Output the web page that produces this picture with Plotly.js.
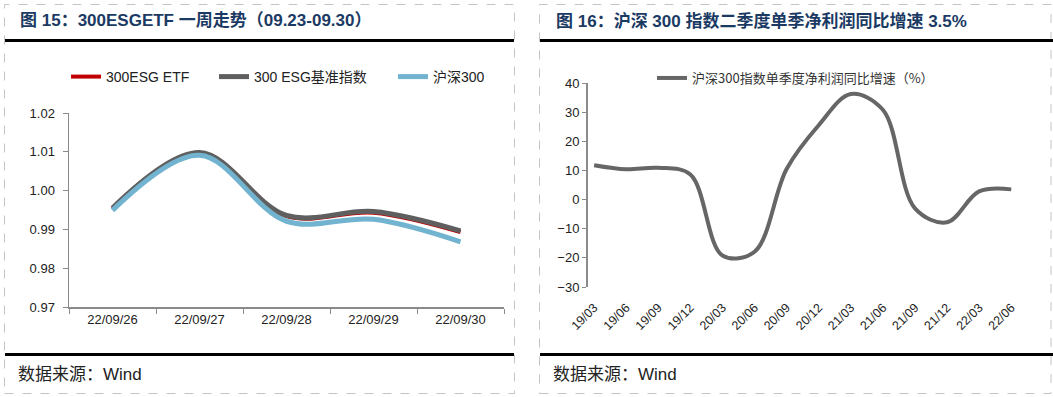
<!DOCTYPE html>
<html>
<head>
<meta charset="utf-8">
<script src="https://cdn.plot.ly/plotly-3.0.1.min.js"></script>
<style>
html,body{margin:0;padding:0;background:#fff;}
#chart{width:1053px;height:397px;}
</style>
</head>
<body>
<div id="chart"></div>
<script>
// ---- Left chart data ----
const dates = ['22/09/26', '22/09/27', '22/09/28', '22/09/29', '22/09/30'];
const etfValues = [0.9953, 1.0096, 0.9934, 0.9943, 0.9893];
const benchValues = [0.9955, 1.0098, 0.9936, 0.9946, 0.9896];
const hs300Values = [0.9949, 1.0091, 0.9921, 0.9926, 0.9868];
const leftNames = ['300ESG ETF', '300 ESG基准指数', '沪深300'];
const leftTicks = [0.97, 0.98, 0.99, 1.00, 1.01, 1.02];

// ---- Right chart data ----
const quarters = ['19/03', '19/06', '19/09', '19/12', '20/03', '20/06', '20/09',
                  '20/12', '21/03', '21/06', '21/09', '21/12', '22/03', '22/06'];
const profitGrowth = [11.8, 10.4, 10.9, 8.6, -19.2, -17.9, 10.5,
                      25.5, 36.2, 30.8, -3.0, -7.8, 2.8, 3.5];
const rightName = '沪深300指数单季度净利润同比增速（%）';

const quarterIdx = quarters.map((q, i) => i);

const W = 1053, H = 397;
const px = v => v / W;
const py = v => 1 - v / H;

const tickFont = {family: 'Liberation Sans, Arial, sans-serif', size: 13, color: '#222'};
const cjkFont = 'Liberation Sans, Noto Sans CJK SC, sans-serif';

const traces = [
  {x: dates, y: etfValues, name: leftNames[0], type: 'scatter', mode: 'lines',
   line: {color: '#C00000', width: 4, shape: 'spline', smoothing: 1}, xaxis: 'x', yaxis: 'y', legend: 'legend'},
  {x: dates, y: benchValues, name: leftNames[1], type: 'scatter', mode: 'lines',
   line: {color: '#5F5F5F', width: 5, shape: 'spline', smoothing: 1}, xaxis: 'x', yaxis: 'y', legend: 'legend2'},
  {x: dates, y: hs300Values, name: leftNames[2], type: 'scatter', mode: 'lines',
   line: {color: '#72B4D0', width: 5, shape: 'spline', smoothing: 1}, xaxis: 'x', yaxis: 'y', legend: 'legend3'},
  {x: quarterIdx, y: profitGrowth, name: rightName, type: 'scatter', mode: 'lines',
   line: {color: '#666666', width: 4, shape: 'spline', smoothing: 1}, xaxis: 'x2', yaxis: 'y2', legend: 'legend4'}
];

const yr = [-30, 40];
const rDom = [py(287), py(83)];
const zeroPos = rDom[0] + (rDom[1] - rDom[0]) * (0 - yr[0]) / (yr[1] - yr[0]);
const xr = [-0.19, 13.18];

const legendBase = {orientation: 'h', xanchor: 'left', yanchor: 'middle', bgcolor: 'rgba(0,0,0,0)',
  font: {family: cjkFont, size: 14, color: '#222'}, borderwidth: 0};

const layout = {
  width: W, height: H,
  margin: {l: 0, r: 0, t: 0, b: 0},
  paper_bgcolor: '#fff', plot_bgcolor: '#fff',
  showlegend: true,
  legend: Object.assign({}, legendBase, {x: px(66), y: py(77)}),
  legend2: Object.assign({}, legendBase, {x: px(214), y: py(77)}),
  legend3: Object.assign({}, legendBase, {x: px(393), y: py(77)}),
  legend4: Object.assign({}, legendBase, {x: px(652), y: py(78),
    font: {family: 'Noto Sans CJK SC, sans-serif', size: 13, color: '#333'}}),
  xaxis: {domain: [px(69), px(504)], anchor: 'y', type: 'category', range: [-0.5, 4.5],
    showline: true, linecolor: '#8a8a8a', linewidth: 1.5,
    ticks: 'outside', tickson: 'boundaries', ticklen: 5, tickcolor: '#8a8a8a', tickwidth: 1,
    showgrid: false, zeroline: false, tickfont: tickFont, fixedrange: true},
  yaxis: {domain: [py(307), py(113)], anchor: 'x', range: [0.97, 1.02],
    tickvals: leftTicks, tickformat: '.2f', ticklabelstandoff: 5,
    showline: true, linecolor: '#8a8a8a', linewidth: 1.5,
    ticks: 'outside', ticklen: 5, tickcolor: '#8a8a8a', tickwidth: 1,
    showgrid: false, zeroline: false, tickfont: tickFont, fixedrange: true},
  xaxis2: {domain: [px(588), px(1017)], anchor: 'y2', range: xr,
    tickvals: quarterIdx, ticktext: quarters, tickangle: -45, ticklabelstandoff: 10,
    showline: false, ticks: '', showgrid: false, zeroline: false,
    tickfont: {family: 'Liberation Sans, Arial, sans-serif', size: 12.5, color: '#222'}, fixedrange: true},
  xaxis3: {domain: [px(588), px(1017)], overlaying: 'x2', anchor: 'free', position: zeroPos,
    range: xr, tickvals: quarterIdx, showticklabels: false,
    showline: true, linecolor: '#8a8a8a', linewidth: 2,
    ticks: 'outside', ticklen: 4, tickcolor: '#8a8a8a', tickwidth: 1,
    showgrid: false, zeroline: false, fixedrange: true},
  yaxis2: {domain: rDom, anchor: 'x2', range: yr, dtick: 10, tick0: 0,
    showline: true, linecolor: '#8a8a8a', linewidth: 2,
    ticks: 'outside', ticklen: 4, tickcolor: '#8a8a8a', tickwidth: 1,
    showgrid: false, zeroline: false, tickfont: tickFont, fixedrange: true},
  shapes: [
    // panel borders (dashed)
    {type: 'rect', xref: 'paper', yref: 'paper', x0: px(4.5), x1: px(514.5), y0: py(393.5), y1: py(4.5),
     line: {color: '#c4c4c4', width: 1, dash: 'dash'}},
    {type: 'rect', xref: 'paper', yref: 'paper', x0: px(539.5), x1: px(1051), y0: py(393.5), y1: py(4.5),
     line: {color: '#c4c4c4', width: 1, dash: 'dash'}},
    // header rules
    {type: 'line', xref: 'paper', yref: 'paper', x0: px(5), x1: px(514), y0: py(40.5), y1: py(40.5),
     line: {color: '#000', width: 3}},
    {type: 'line', xref: 'paper', yref: 'paper', x0: px(540), x1: px(1053), y0: py(40.5), y1: py(40.5),
     line: {color: '#000', width: 3}},
    // footer rules
    {type: 'line', xref: 'paper', yref: 'paper', x0: px(5), x1: px(514), y0: py(354.5), y1: py(354.5),
     line: {color: '#000', width: 3}},
    {type: 'line', xref: 'paper', yref: 'paper', x0: px(540), x1: px(1053), y0: py(354.5), y1: py(354.5),
     line: {color: '#000', width: 3}}
  ],
  annotations: [
    {xref: 'paper', yref: 'paper', x: px(18), y: py(21), xanchor: 'left', yanchor: 'middle', showarrow: false,
     text: '<b>图 15：300ESGETF 一周走势（09.23-09.30）</b>',
     font: {family: cjkFont, size: 17, color: '#1B3A63'}},
    {xref: 'paper', yref: 'paper', x: px(554), y: py(21), xanchor: 'left', yanchor: 'middle', showarrow: false,
     text: '<b>图 16：沪深 300 指数二季度单季净利润同比增速 3.5%</b>',
     font: {family: cjkFont, size: 17, color: '#1B3A63'}},
    {xref: 'paper', yref: 'paper', x: px(16), y: py(374), xanchor: 'left', yanchor: 'middle', showarrow: false,
     text: '数据来源：Wind', font: {family: cjkFont, size: 17, color: '#222'}},
    {xref: 'paper', yref: 'paper', x: px(551), y: py(374), xanchor: 'left', yanchor: 'middle', showarrow: false,
     text: '数据来源：Wind', font: {family: cjkFont, size: 17, color: '#222'}}
  ]
};

Plotly.newPlot('chart', traces, layout, {displayModeBar: false, staticPlot: true});
</script>
</body>
</html>
